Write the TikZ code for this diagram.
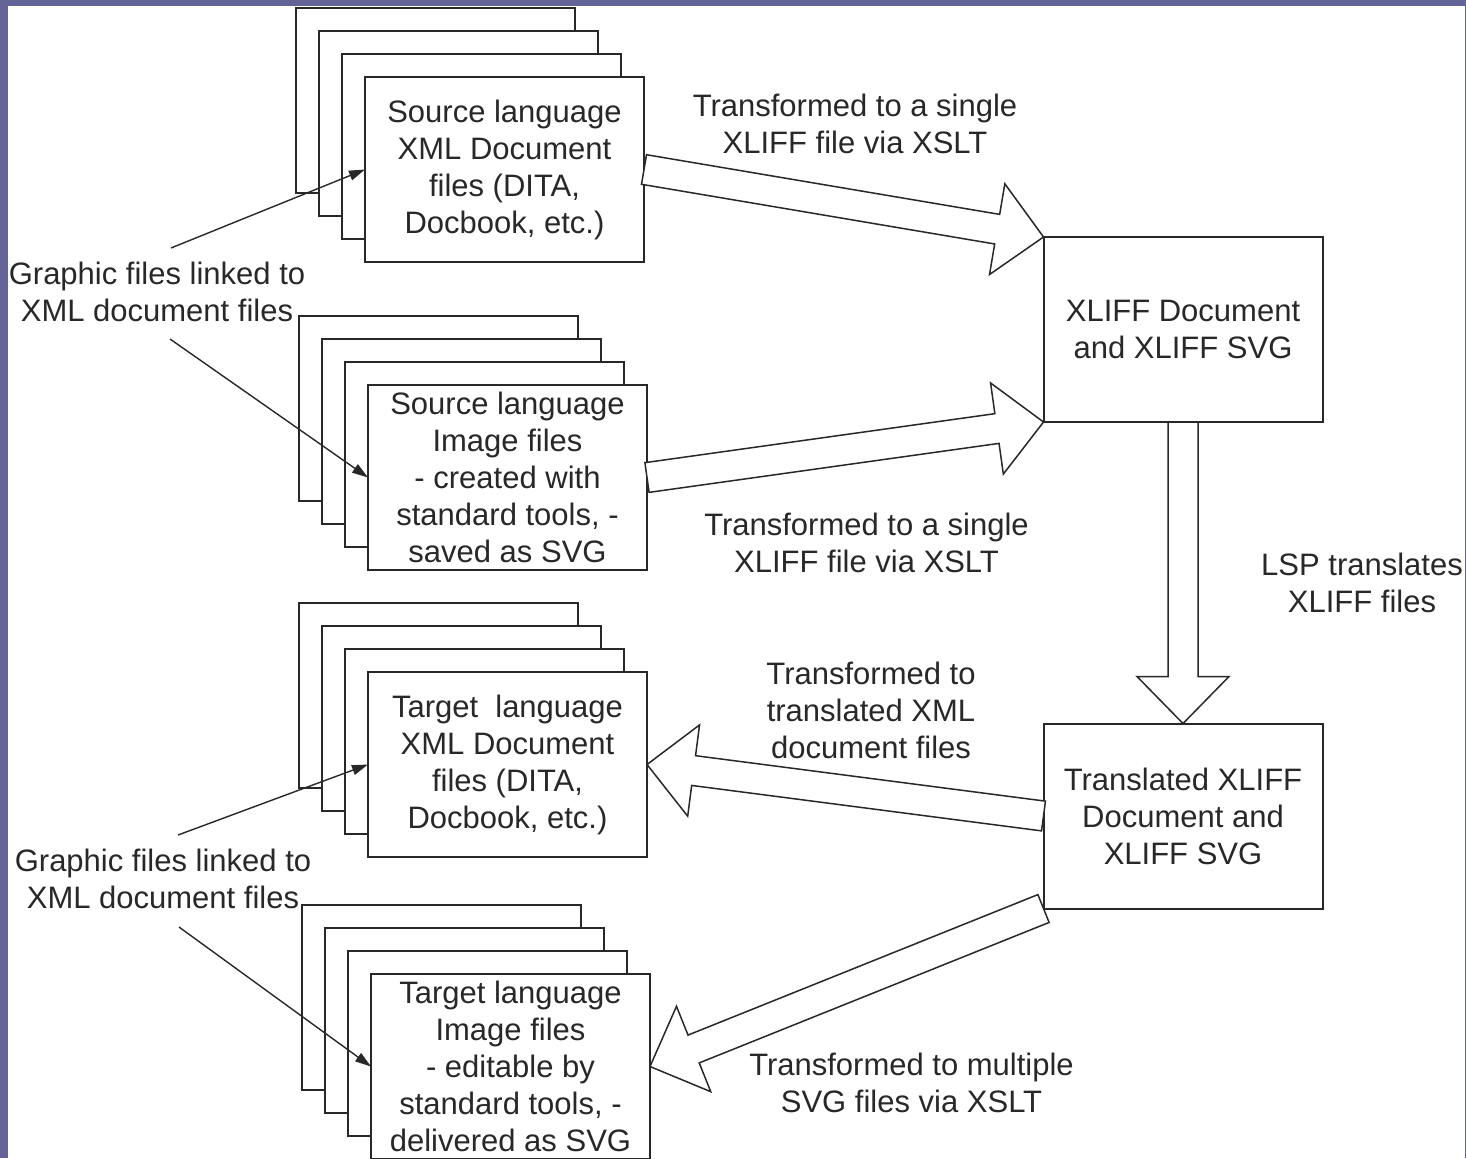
\documentclass[tikz,border=0pt]{standalone}
\usepackage{fontspec}
\setmainfont{Liberation Sans}
\usetikzlibrary{arrows.meta, positioning, calc}

\definecolor{frame}{RGB}{100,99,152}
\definecolor{ink}{RGB}{40,40,40}

\begin{document}
\begin{tikzpicture}[
    x=0.5pt, y=-0.5pt,
    on grid,
    every node/.style={font=\fontsize{15.5}{18.5}\selectfont, text=ink},
    sheet/.style={draw=ink, fill=white, line width=1pt, rectangle,
        minimum width=139.5pt, minimum height=92.5pt,
        inner sep=0pt, outer sep=0pt, align=center},
    note/.style={align=center, inner sep=0pt},
    pointer/.style={draw=ink, line width=0.7pt, -{Triangle[length=8pt, width=5pt]}},
    fat/.style={draw=ink, line width=0.75pt, fill=white, line join=miter,
        to path={($(\tikztostart)!7.5pt!90:(\tikztotarget)$)
            -- ($(\tikztotarget)!23.5pt!(\tikztostart)!7.5pt!-90:(\tikztostart)$)
            -- ($(\tikztotarget)!23.5pt!(\tikztostart)!23pt!-90:(\tikztostart)$)
            -- (\tikztotarget)
            -- ($(\tikztotarget)!23.5pt!(\tikztostart)!23pt!90:(\tikztostart)$)
            -- ($(\tikztotarget)!23.5pt!(\tikztostart)!7.5pt!90:(\tikztostart)$)
            -- ($(\tikztostart)!7.5pt!-90:(\tikztotarget)$)
            -- cycle}},
]

    % page frame
    \useasboundingbox (0,0) rectangle (1466,1158);
    \fill[frame] (0,0) rectangle (1466,1158);
    \fill[white] (8,6) rectangle (1464.5,1160);

    % source XML files
    \node[sheet]                                    (sx1) at (435.5,100.5) {};
    \node[sheet, below right=11.5pt and 11.5pt of sx1] (sx2) {};
    \node[sheet, below right=11.5pt and 11.5pt of sx2] (sx3) {};
    \node[sheet, below right=11.5pt and 11.5pt of sx3] (sx)
        {Source language\\XML Document\\files (DITA,\\Docbook, etc.)};

    % source image files
    \node[sheet]                                    (si1) at (438.5,408.5) {};
    \node[sheet, below right=11.5pt and 11.5pt of si1] (si2) {};
    \node[sheet, below right=11.5pt and 11.5pt of si2] (si3) {};
    \node[sheet, below right=11.5pt and 11.5pt of si3] (si)
        {Source language\\Image files\\- created with\\standard tools, -\\saved as SVG};

    % target XML files
    \node[sheet]                                    (tx1) at (438.5,695.5) {};
    \node[sheet, below right=11.5pt and 11.5pt of tx1] (tx2) {};
    \node[sheet, below right=11.5pt and 11.5pt of tx2] (tx3) {};
    \node[sheet, below right=11.5pt and 11.5pt of tx3] (tx)
        {Target\ \ language\\XML Document\\files (DITA,\\Docbook, etc.)};

    % target image files
    \node[sheet]                                    (ti1) at (441.5,997.5) {};
    \node[sheet, below right=11.5pt and 11.5pt of ti1] (ti2) {};
    \node[sheet, below right=11.5pt and 11.5pt of ti2] (ti3) {};
    \node[sheet, below right=11.5pt and 11.5pt of ti3] (ti)
        {Target language\\Image files\\- editable by\\standard tools, -\\delivered as SVG};

    % XLIFF documents
    \node[sheet]                        (xl) at (1183,329.5) {XLIFF Document\\and XLIFF SVG};
    \node[sheet, below=243.25pt of xl]  (tr) {Translated XLIFF\\Document and\\XLIFF SVG};

    % labels
    \node[note] (t1)  at (855,123.5)  {Transformed to a single\\XLIFF file via XSLT};
    \node[note] (t2)  at (866.5,542.5) {Transformed to a single\\XLIFF file via XSLT};
    \node[note] (lsp) at (1362,583)   {LSP translates\\XLIFF files};
    \node[note] (t3)  at (871,710)    {Transformed to\\translated XML\\document files};
    \node[note] (t4)  at (911.5,1082.5) {Transformed to multiple\\SVG files via XSLT};
    \node[note] (g1)  at (157,291.5)  {Graphic files linked to\\XML document files};
    \node[note] (g2)  at (163,878.5)  {Graphic files linked to\\XML document files};

    \coordinate (g1a) at (171,248);
    \coordinate (g1b) at (170,339);
    \coordinate (g2a) at (178,835);
    \coordinate (g2b) at (179,927);

    % flow
    \draw[fat] (sx.east) to (xl.north west);
    \draw[fat] (si.east) to (xl.south west);
    \draw[fat] (xl.south) to (tr.north);
    \draw[fat] (tr.west) to (tx.east);
    \draw[fat] (tr.south west) to (ti.east);

    % graphic links
    \draw[pointer] (g1a) -- (sx.west);
    \draw[pointer] (g1b) -- (si.west);
    \draw[pointer] (g2a) -- (tx.west);
    \draw[pointer] (g2b) -- (ti.west);
\end{tikzpicture}
\end{document}
